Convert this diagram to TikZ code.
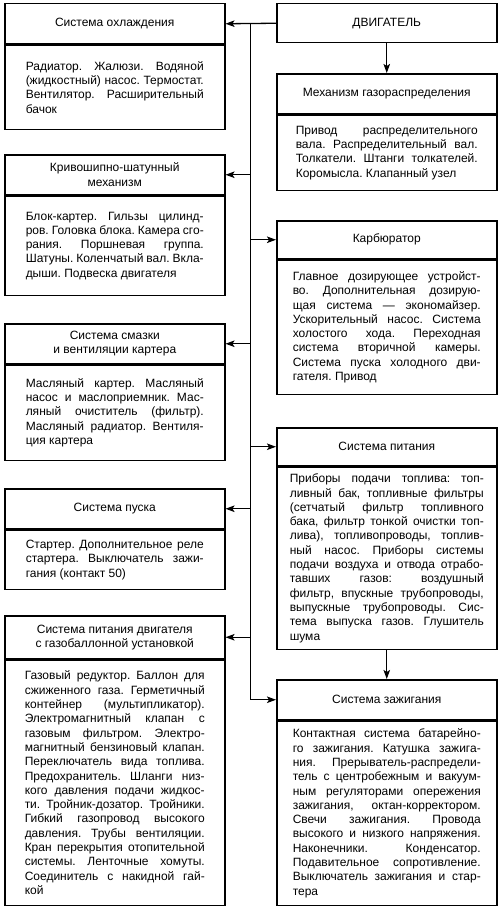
\documentclass[tikz,border=0pt]{standalone}
\usepackage{fontspec}
\setmainfont{Liberation Sans}
\usetikzlibrary{positioning,calc,arrows.meta}
\tolerance=10000
\frenchspacing

\begin{document}
\begin{tikzpicture}[x=1pt, y=1pt, font=\fontsize{12}{14.3}\selectfont]
  \tikzset{
    hdr/.style={draw, line width=1.5pt, minimum width=220pt, minimum height=#1, inner sep=0pt, align=center},
    hdr/.default=40pt,
    body/.style 2 args={draw, line width=1.5pt, minimum width=220pt, minimum height=#2, text width=#1, inner sep=0pt, align=justify},
    arr/.style={line width=1.3pt, -{Stealth[length=9pt, width=6.5pt, inset=2pt]}}
  }
  \useasboundingbox (0,0) rectangle (500,-907);

  % Двигатель
  \node[hdr=39pt, anchor=north west] (eng) at (276,-3) {ДВИГАТЕЛЬ};

  % --- левый столбец ---
  \node[hdr, anchor=north west] (hL1) at (4,-3) {Система охлаждения};
  \node[body={178pt}{84pt}, below=0pt of hL1] (bL1)
    {Радиатор. Жалюзи. Водяной\linebreak (жидкостный) насос. Термостат.\linebreak
     Вентилятор. Расширительный\linebreak бачок};

  \node[hdr, anchor=north west] (hL2) at (4,-154) {Кривошипно-шатунный\\механизм};
  \node[body={178pt}{99pt}, below=0pt of hL2] (bL2)
    {Блок-картер. Гильзы цилинд-\linebreak ров. Головка блока. Камера сго-\linebreak
     рания. Поршневая группа.\linebreak Шатуны. Коленчатый вал. Вкла-\linebreak
     дыши. Подвеска двигателя};

  \node[hdr, anchor=north west] (hL3) at (4,-323) {Система смазки\\и вентиляции картера};
  \node[body={178pt}{95pt}, below=0pt of hL3] (bL3)
    {Масляный картер. Масляный\linebreak насос и маслоприемник. Мас-\linebreak
     ляный очиститель (фильтр).\linebreak Масляный радиатор. Вентиля-\linebreak
     ция картера};

  \node[hdr, anchor=north west] (hL4) at (4,-488) {Система пуска};
  \node[body={178pt}{59pt}, below=0pt of hL4] (bL4)
    {Стартер. Дополнительное реле\linebreak стартера. Выключатель зажи-\linebreak
     гания (контакт 50)};

  \node[hdr=43pt, anchor=north west] (hL5) at (4,-615) {Система питания двигателя\\с газобаллонной установкой};
  \node[body={180pt}{245pt}, below=0pt of hL5] (bL5)
    {Газовый редуктор. Баллон для\linebreak сжиженного газа. Герметичный\linebreak
     контейнер (мультипликатор).\linebreak Электромагнитный клапан с\linebreak
     газовым фильтром. Электро-\linebreak магнитный бензиновый клапан.\linebreak
     Переключатель вида топлива.\linebreak Предохранитель. Шланги низ-\linebreak
     кого давления подачи жидкос-\linebreak ти. Тройник-дозатор. Тройники.\linebreak
     Гибкий газопровод высокого\linebreak давления. Трубы вентиляции.\linebreak
     Кран перекрытия отопительной\linebreak системы. Ленточные хомуты.\linebreak
     Соединитель с накидной гай-\linebreak кой};

  % --- правый столбец ---
  \node[hdr, anchor=north west] (hR1) at (276,-73) {Механизм газораспределения};
  \node[body={182pt}{75pt}, below=0pt of hR1] (bR1)
    {Привод распределительного\linebreak вала. Распределительный вал.\linebreak
     Толкатели. Штанги толкателей.\linebreak Коромысла. Клапанный узел};

  \node[hdr=38pt, anchor=north west] (hR2) at (276,-220) {Карбюратор};
  \node[body={188pt}{134pt}, below=0pt of hR2] (bR2)
    {Главное дозирующее устройст-\linebreak во. Дополнительная дозирую-\linebreak
     щая система — экономайзер.\linebreak Ускорительный насос. Система\linebreak
     холостого хода. Переходная\linebreak система вторичной камеры.\linebreak
     Система пуска холодного дви-\linebreak гателя. Привод};

  \node[hdr=38pt, anchor=north west] (hR3) at (276,-427) {Система питания};
  \node[body={194pt}{182pt}, below=0pt of hR3] (bR3)
    {Приборы подачи топлива: топ-\linebreak ливный бак, топливные фильтры\linebreak
     (сетчатый фильтр топливного\linebreak бака, фильтр тонкой очистки топ-\linebreak
     лива), топливопроводы, топлив-\linebreak ный насос. Приборы системы\linebreak
     подачи воздуха и отвода отрабо-\linebreak тавших газов: воздушный\linebreak
     фильтр, впускные трубопроводы,\linebreak выпускные трубопроводы. Сис-\linebreak
     тема выпуска газов. Глушитель\linebreak шума};

  \node[hdr, anchor=north west] (hR4) at (276,-679) {Система зажигания};
  \node[body={188pt}{184pt}, below=0pt of hR4] (bR4)
    {Контактная система батарейно-\linebreak го зажигания. Катушка зажига-\linebreak
     ния. Прерыватель-распредели-\linebreak тель с центробежным и вакуум-\linebreak
     ным регуляторами опережения\linebreak зажигания, октан-корректором.\linebreak
     Свечи зажигания. Провода\linebreak высокого и низкого напряжения.\linebreak
     Наконечники. Конденсатор.\linebreak Подавительное сопротивление.\linebreak
     Выключатель зажигания и стар-\linebreak тера};

  % Связи
  \coordinate (trk) at ($(eng.west)!0.5!(hL1.east)$);
  \draw[arr] (eng.west) -- (hL1.east);
  \draw[arr] (trk) |- (hR4.west);
  \foreach \n in {hL2,hL3,hL4,hL5}
    \draw[arr] (trk |- \n.east) -- (\n.east);
  \foreach \n in {hR2,hR3}
    \draw[arr] (trk |- \n.west) -- (\n.west);
  \draw[arr] (eng.south) -- (hR1.north);
  \draw[arr] (bR3.south) -- (hR4.north);
\end{tikzpicture}
\end{document}
